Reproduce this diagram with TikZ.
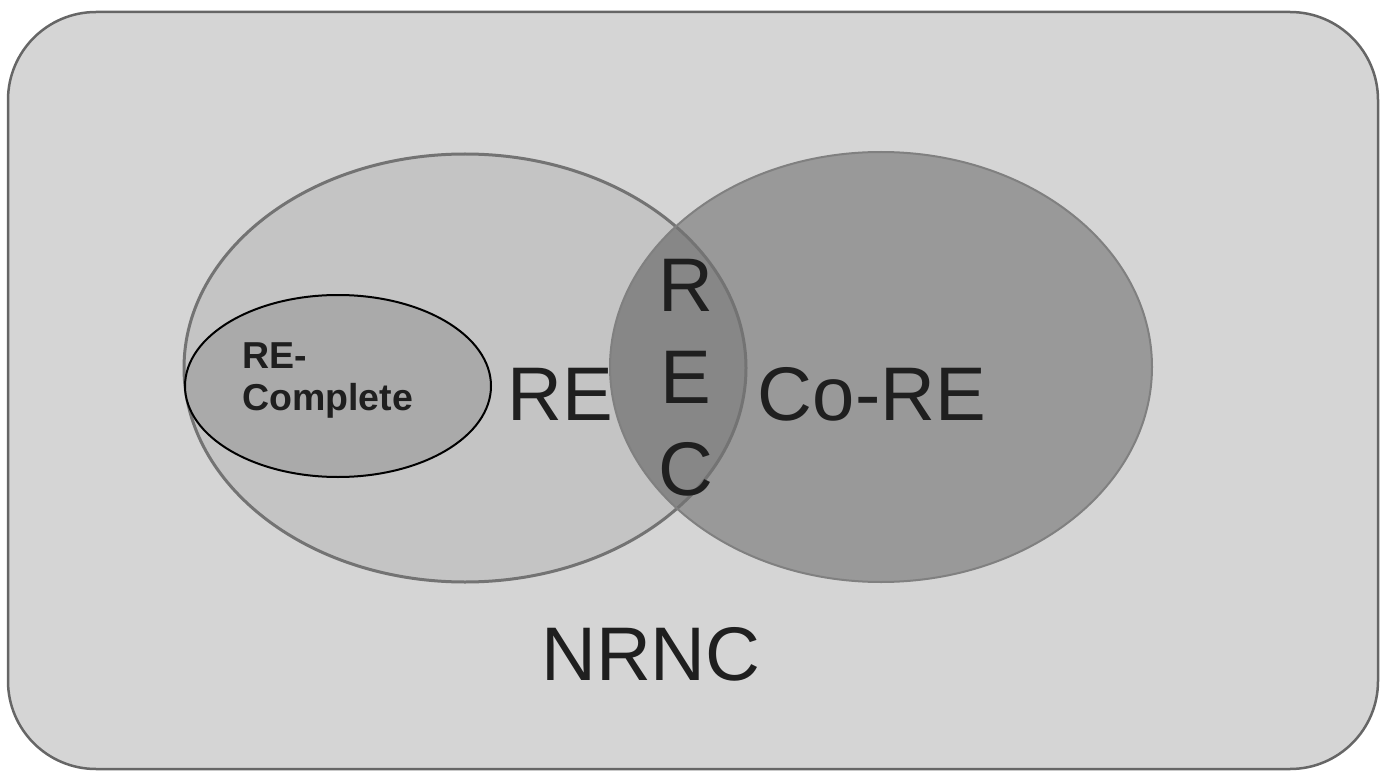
\documentclass[tikz,border=0pt]{standalone}
\usepackage{fontspec}
\setmainfont{Liberation Sans}
\usepackage{xcolor}
\usepackage{tikz}
\usetikzlibrary{positioning}

\definecolor{panelgray}{HTML}{D5D5D5}
\definecolor{regray}{HTML}{C4C4C4}
\definecolor{coregray}{HTML}{999999}
\definecolor{recgray}{HTML}{878787}
\definecolor{compgray}{HTML}{AAAAAA}

\begin{document}
\begin{tikzpicture}[
      x=1pt, y=-1pt,
      panel/.style={draw=black!60, line width=2.5pt, fill=panelgray, rounded corners=88pt},
      setline/.style={draw=black!55, line width=3pt},
      bigtxt/.style={inner sep=0pt, font=\fontsize{76}{92}\selectfont, text=black!88},
      smalltxt/.style={inner sep=0pt, align=left, font=\fontsize{37.5}{42}\selectfont\bfseries, text=black!88}
    ]
    \useasboundingbox (0,0) rectangle (1387,778);
    \path[panel] (8,12) rectangle (1378,769);

    % sets
    \fill[regray]   (465,368) ellipse [x radius=281pt, y radius=214pt];
    \fill[coregray] (881,367) ellipse [x radius=271pt, y radius=215pt];
    \begin{scope}
      \clip (465,368) ellipse [x radius=281pt, y radius=214pt];
      \fill[recgray] (881,367) ellipse [x radius=271pt, y radius=215pt];
    \end{scope}
    \draw[setline] (465,368) ellipse [x radius=281pt, y radius=214pt];
    \draw[draw=black!50, line width=2pt] (881,367) ellipse [x radius=271pt, y radius=215pt];
    \draw[fill=compgray, line width=2pt] (338,386) ellipse [x radius=153pt, y radius=91pt];

    % labels
    \node[smalltxt, anchor=north west] (complete) at (242,342) {RE-\\Complete};
    \node[bigtxt] (re)   at (560,394) {RE};
    \node[bigtxt, align=center] (rec) at (686,378) {R\\E\\C};
    \node[bigtxt] (core) at (872,394) {Co-RE};
    \node[bigtxt] (nrnc) at (651,654) {NRNC};
  \end{tikzpicture}
\end{document}
